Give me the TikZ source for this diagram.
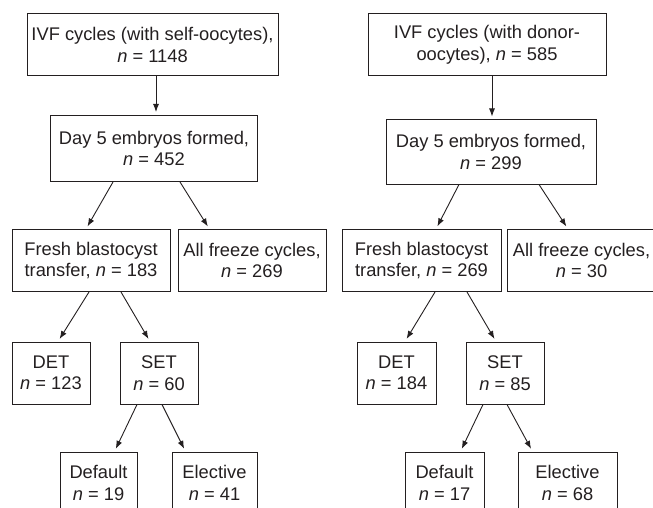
\documentclass[tikz,border=0pt]{standalone}
\usepackage{fontspec}
\setmainfont{Liberation Sans}
\usetikzlibrary{arrows.meta}
\definecolor{ink}{HTML}{231F20}
\begin{document}
\begin{tikzpicture}[x=1pt,y=-1pt,
  box/.style={draw=ink, line width=1pt, align=center, inner sep=0pt,
    minimum height=62pt, text=ink, font=\fontsize{18.3}{21.5}\selectfont},
  arr/.style={draw=ink, line width=0.9pt, -{Latex[length=8pt,width=6pt]}, shorten >=3pt}]
\useasboundingbox (0,0) rectangle (653,508);
\clip (0,0) rectangle (653,508);
% left column
\node[box, minimum width=251pt] (L1) at (152.5,45) {IVF cycles (with self-oocytes),\\\textit{n} = 1148};
\node[box, minimum width=207pt, minimum height=66pt] (L2) at (154,148.5) {Day 5 embryos formed,\\\textit{n} = 452};
\node[box, minimum width=158pt] (LF) at (91,260.5) {Fresh blastocyst\\transfer, \textit{n} = 183};
\node[box, minimum width=148pt] (LZ) at (252,260.5) {All freeze cycles,\\\textit{n} = 269};
\node[box, minimum width=78pt] (LD) at (51,373) {DET\\\textit{n} = 123};
\node[box, minimum width=78pt] (LS) at (159,373) {SET\\\textit{n} = 60};
\node[box, minimum width=77pt] (LDef) at (98.5,483) {Default\\\textit{n} = 19};
\node[box, minimum width=85pt] (LEl) at (214.5,483) {Elective\\\textit{n} = 41};
% right column
\node[box, minimum width=238pt] (R1) at (487,45) {IVF cycles (with donor-\\oocytes), \textit{n} = 585};
\node[box, minimum width=210pt, minimum height=64pt] (R2) at (491,152) {Day 5 embryos formed,\\\textit{n} = 299};
\node[box, minimum width=159pt] (RF) at (421.5,260.5) {Fresh blastocyst\\transfer, \textit{n} = 269};
\node[box, minimum width=149pt] (RZ) at (581.5,260.5) {All freeze cycles,\\\textit{n} = 30};
\node[box, minimum width=79pt] (RD) at (396.5,373) {DET\\\textit{n} = 184};
\node[box, minimum width=78pt] (RS) at (505,373) {SET\\\textit{n} = 85};
\node[box, minimum width=79pt] (RDef) at (444.5,483) {Default\\\textit{n} = 17};
\node[box, minimum width=99pt] (REl) at (567.5,483) {Elective\\\textit{n} = 68};
% left arrows
\draw[arr] ([xshift=3.5pt]L1.south) -- ([xshift=2pt]L2.north);
\draw[arr] ([xshift=-41pt]L2.south) -- ([xshift=-5pt]LF.north);
\draw[arr] ([xshift=26pt]L2.south) -- ([xshift=-42.6pt]LZ.north);
\draw[arr] ([xshift=-2pt]LF.south) -- ([xshift=7pt]LD.north);
\draw[arr] ([xshift=30pt]LF.south) -- ([xshift=-9pt]LS.north);
\draw[arr] ([xshift=-22pt]LS.south) -- ([xshift=16pt]LDef.north);
\draw[arr] ([xshift=3pt]LS.south) -- ([xshift=-29pt]LEl.north);
% right arrows
\draw[arr] ([xshift=5pt]R1.south) -- ([xshift=1pt]R2.north);
\draw[arr] ([xshift=-32pt]R2.south) -- ([xshift=14.5pt]RF.north);
\draw[arr] ([xshift=48pt]R2.south) -- ([xshift=-13.5pt]RZ.north);
\draw[arr] ([xshift=13.5pt]RF.south) -- ([xshift=8.5pt]RD.north);
\draw[arr] ([xshift=45.5pt]RF.south) -- ([xshift=-9pt]RS.north);
\draw[arr] ([xshift=-22pt]RS.south) -- ([xshift=16pt]RDef.north);
\draw[arr] ([xshift=2pt]RS.south) -- ([xshift=-35pt]REl.north);
\end{tikzpicture}
\end{document}
